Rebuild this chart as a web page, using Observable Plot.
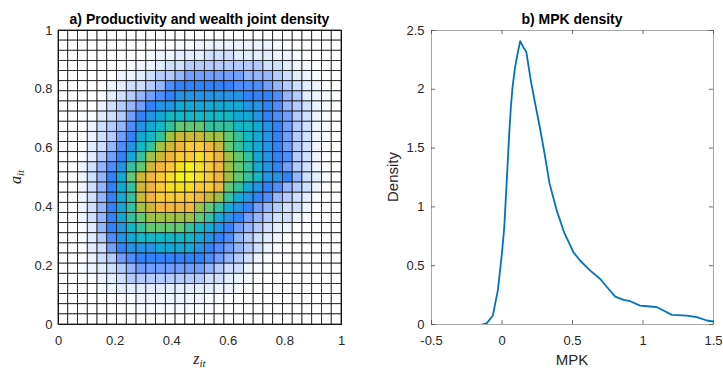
<!DOCTYPE html>
<html>
<head>
<meta charset="utf-8">
<script src="https://cdn.jsdelivr.net/npm/d3@7"></script>
<script src="https://cdn.jsdelivr.net/npm/@observablehq/plot@0.6"></script>
<style>
  html, body { margin: 0; padding: 0; background: #fff; }
  #wrap { position: relative; width: 723px; height: 368px; overflow: hidden; background: #fff; }
  #left { position: absolute; left: 0; top: 0; }
  #right { position: absolute; left: 361px; top: 0; }
</style>
</head>
<body>
<div id="wrap"><div id="left"></div><div id="right"></div></div>
<script>
// ---------- Data: panel a) joint density (29 x 29 cells, rows listed top (a=1) to bottom (a=0)) ----------
const nCells = 29;
const densityRows = [
  [0,0,0,0,0,0,0,0,0,0,0,0,0,0,0,0,0,0,0,0,0,0,0,0,0,0,0,0,0],
  [0,0,0,0,0,0,0,0,0,0,0,0,1,1,2,2,2,2,2,2,2,2,1,0,0,0,0,0,0],
  [0,0,0,0,0,0,0,0,0,1,2,2,3,3,3,4,4,4,3,3,3,3,2,2,1,0,0,0,0],
  [0,0,0,0,0,0,0,1,2,2,3,4,4,5,5,5,5,5,5,5,5,4,4,3,2,1,0,0,0],
  [0,0,0,0,0,0,2,2,3,4,5,5,6,7,7,7,7,7,7,6,6,6,5,4,3,2,1,0,0],
  [0,0,0,0,0,2,3,4,4,5,6,8,9,9,9,9,9,9,8,8,8,7,6,5,4,3,2,0,0],
  [0,0,0,0,1,3,4,5,6,7,8,9,10,10,10,10,10,10,10,9,9,9,8,6,5,3,2,1,0],
  [0,0,0,0,2,4,5,6,7,9,10,10,11,11,11,11,11,11,11,10,10,9,8,6,5,4,2,1,0],
  [0,0,0,1,3,4,5,7,9,10,11,12,12,12,12,12,12,12,11,11,10,9,8,7,5,4,2,1,0],
  [0,0,0,2,4,5,6,8,10,11,12,13,14,14,14,13,13,13,12,12,11,10,9,7,5,4,2,1,0],
  [0,0,0,2,4,5,7,9,11,12,13,15,16,16,16,15,15,14,13,12,11,10,9,7,5,4,2,1,0],
  [0,0,0,3,4,6,8,10,12,13,15,16,17,18,18,17,16,14,13,12,11,10,9,7,5,4,2,0,0],
  [0,0,1,3,5,7,9,11,13,15,16,17,18,18,19,18,17,15,14,13,11,10,9,8,5,4,2,0,0],
  [0,0,2,4,6,8,10,13,14,16,17,18,19,20,19,18,17,15,14,13,11,10,9,7,5,4,2,0,0],
  [0,0,2,4,6,9,11,14,16,17,18,19,20,20,19,18,17,15,14,13,12,10,10,9,6,4,3,1,0],
  [0,0,2,4,6,9,11,13,16,17,18,19,19,19,18,18,17,14,13,11,10,9,8,6,5,4,2,0,0],
  [0,0,2,4,6,9,11,13,16,17,18,18,18,18,17,16,15,13,11,10,9,8,6,5,4,3,1,0,0],
  [0,0,2,4,6,9,11,13,15,16,17,17,17,17,15,14,13,11,10,9,7,6,5,4,4,2,0,0,0],
  [0,0,2,4,6,9,11,13,14,15,15,15,15,15,14,13,11,10,9,7,6,5,4,4,2,1,0,0,0],
  [0,0,1,3,6,9,10,12,13,14,14,14,14,13,12,11,10,9,7,6,5,4,3,2,0,0,0,0,0],
  [0,0,1,3,5,8,10,11,12,12,12,12,12,12,11,10,9,8,6,5,4,3,2,0,0,0,0,0,0],
  [0,0,0,3,4,7,9,10,10,10,11,11,11,11,10,9,8,7,6,5,4,2,1,0,0,0,0,0,0],
  [0,0,0,2,4,5,7,8,9,9,9,9,9,9,9,8,7,6,5,4,2,1,0,0,0,0,0,0,0],
  [0,0,1,2,3,4,5,6,7,7,7,7,7,7,7,6,5,4,4,2,1,0,0,0,0,0,0,0,0],
  [0,0,0,1,2,3,4,5,5,5,5,5,5,5,5,4,4,3,2,1,0,0,0,0,0,0,0,0,0],
  [0,0,0,0,1,2,3,3,3,3,3,3,3,3,3,3,2,2,1,0,0,0,0,0,0,0,0,0,0],
  [0,0,0,0,0,0,1,1,2,2,2,2,2,2,2,1,1,0,0,0,0,0,0,0,0,0,0,0,0],
  [0,0,0,0,0,0,0,0,1,1,1,1,1,1,1,1,0,0,0,0,0,0,0,0,0,0,0,0,0],
  [0,0,0,0,0,0,0,0,0,0,0,0,0,0,0,0,0,0,0,0,0,0,0,0,0,0,0,0,0]
];
const leftTicks = [0, 0.2, 0.4, 0.6, 0.8, 1];
const leftTickLabels = ["0", "0.2", "0.4", "0.6", "0.8", "1"];

// ---------- Data: panel b) MPK density ----------
const mpk = [-0.143, -0.107, -0.065, -0.029, -0.001, 0.016, 0.035, 0.051, 0.063, 0.075, 0.093, 0.11, 0.129, 0.15, 0.172, 0.205, 0.235, 0.271, 0.301, 0.337, 0.389, 0.441, 0.507, 0.555, 0.626, 0.697, 0.756, 0.803, 0.862, 0.909, 0.98, 1.05, 1.099, 1.145, 1.205, 1.311, 1.382, 1.453, 1.5];
const mpkDensity = [0, 0.012, 0.076, 0.294, 0.6, 0.825, 1.25, 1.62, 1.85, 2.02, 2.19, 2.3, 2.41, 2.36, 2.32, 2.07, 1.88, 1.66, 1.46, 1.2, 0.966, 0.783, 0.613, 0.542, 0.458, 0.387, 0.302, 0.237, 0.209, 0.198, 0.161, 0.153, 0.147, 0.119, 0.082, 0.076, 0.062, 0.034, 0.025];
const rightXTicks = [-0.5, 0, 0.5, 1, 1.5];
const rightXTickLabels = ["-0.5", "0", "0.5", "1", "1.5"];
const rightYTicks = [0, 0.5, 1, 1.5, 2, 2.5];
const rightYTickLabels = ["0", "0.5", "1", "1.5", "2", "2.5"];

// ---------- Colour map (levels -> colours, white-to-parula) ----------
const levelDomain = d3.range(21);
const levelColors = ["#ffffff","#f8fbff","#eef4ff","#e2edff","#cfdfff","#b4cbff","#93b6ff","#729fff","#4e8dff","#3182fb","#2394e6","#13a9d6","#12b8c6","#34c1a0","#62c874","#a0c244","#cbb834","#f2b63e","#f9c938","#f6df22","#f7f31a"];

// ---------- Build tables ----------
const cells = [];
densityRows.forEach((row, r) => {
  row.forEach((v, c) => {
    cells.push({x1: c / nCells, x2: (c + 1) / nCells, y1: (nCells - 1 - r) / nCells, y2: (nCells - r) / nCells, v});
  });
});
const curve = mpk.map((x, i) => ({x, y: mpkDensity[i]}));

const FONT = "Liberation Sans, Arial, Helvetica, sans-serif";
const TXT = "#262626";

// ---------- Left panel ----------
const leftSvg = Plot.plot({
  width: 361, height: 368,
  marginLeft: 58, marginRight: 20, marginTop: 30, marginBottom: 44,
  style: {fontFamily: FONT, fontSize: "13px", color: TXT, background: "#fff", overflow: "visible"},
  x: {domain: [0, 1]},
  y: {domain: [0, 1]},
  color: {type: "linear", domain: levelDomain, range: levelColors, interpolate: "rgb"},
  marks: [
    Plot.rect(cells, {x1: "x1", x2: "x2", y1: "y1", y2: "y2", fill: "v", stroke: "#141414", strokeWidth: 0.8}),
    Plot.frame({stroke: "#141414", strokeWidth: 1}),
    Plot.axisX(leftTicks, {tickSize: 0, tickPadding: 11, tickFormat: (d, i) => leftTickLabels[i], label: null, fill: TXT}),
    Plot.axisY(leftTicks, {tickSize: 0, tickPadding: 6, tickFormat: (d, i) => leftTickLabels[i], label: null, fill: TXT})
  ]
});
document.getElementById("left").appendChild(leftSvg);

// ---------- Right panel ----------
const rightSvg = Plot.plot({
  width: 362, height: 368,
  marginLeft: 70, marginRight: 10, marginTop: 30, marginBottom: 44,
  style: {fontFamily: FONT, fontSize: "13px", color: TXT, background: "#fff", overflow: "visible"},
  x: {domain: [-0.5, 1.5]},
  y: {domain: [0, 2.5]},
  marks: [
    Plot.frame({stroke: "#a6a6a6", strokeWidth: 1}),
    Plot.tickX(rightXTicks, {x: d => d, insetTop: 290, stroke: "#4d4d4d", strokeWidth: 0.8}),
    Plot.tickX(rightXTicks, {x: d => d, insetBottom: 290, stroke: "#4d4d4d", strokeWidth: 0.8}),
    Plot.tickY(rightYTicks, {y: d => d, insetRight: 278, stroke: "#4d4d4d", strokeWidth: 0.8}),
    Plot.tickY(rightYTicks, {y: d => d, insetLeft: 278, stroke: "#4d4d4d", strokeWidth: 0.8}),
    Plot.line(curve, {x: "x", y: "y", stroke: "#0072BD", strokeWidth: 1.8, clip: true}),
    Plot.axisX(rightXTicks, {tickSize: 0, tickPadding: 11, tickFormat: (d, i) => rightXTickLabels[i], label: null, fill: TXT}),
    Plot.axisY(rightYTicks, {tickSize: 0, tickPadding: 7, tickFormat: (d, i) => rightYTickLabels[i], label: null, fill: TXT})
  ]
});
document.getElementById("right").appendChild(rightSvg);

// ---------- Titles and axis labels (real text) ----------
function addText(svg, attrs, text) {
  const t = d3.select(svg).append("text");
  Object.entries(attrs).forEach(([k, v]) => t.attr(k, v));
  if (typeof text === "string") t.text(text);
  else text(t);
  return t;
}
// left title
addText(leftSvg, {x: 199.5, y: 23.5, "text-anchor": "middle", "font-family": FONT, "font-size": 14, "font-weight": "bold", fill: "#000"}, "a) Productivity and wealth joint density");
// left x label z_it
addText(leftSvg, {x: 199.5, y: 364, "text-anchor": "middle", "font-family": "Liberation Serif, Times New Roman, serif", "font-size": 16, "font-style": "italic", fill: TXT}, t => {
  t.append("tspan").text("z");
  t.append("tspan").attr("font-size", 11).attr("dy", 3).text("it");
});
// left y label a_it
addText(leftSvg, {transform: "translate(21,177) rotate(-90)", "text-anchor": "middle", "font-family": "Liberation Serif, Times New Roman, serif", "font-size": 16, "font-style": "italic", fill: TXT}, t => {
  t.append("tspan").text("a");
  t.append("tspan").attr("font-size", 11).attr("dy", 3).text("it");
});
// right title
addText(rightSvg, {x: 211, y: 23.5, "text-anchor": "middle", "font-family": FONT, "font-size": 14, "font-weight": "bold", fill: "#000"}, "b) MPK density");
// right x label
addText(rightSvg, {x: 211, y: 365, "text-anchor": "middle", "font-family": FONT, "font-size": 15, fill: TXT}, "MPK");
// right y label
addText(rightSvg, {transform: "translate(36.5,177) rotate(-90)", "text-anchor": "middle", "font-family": FONT, "font-size": 15, fill: TXT}, "Density");
</script>
</body>
</html>
